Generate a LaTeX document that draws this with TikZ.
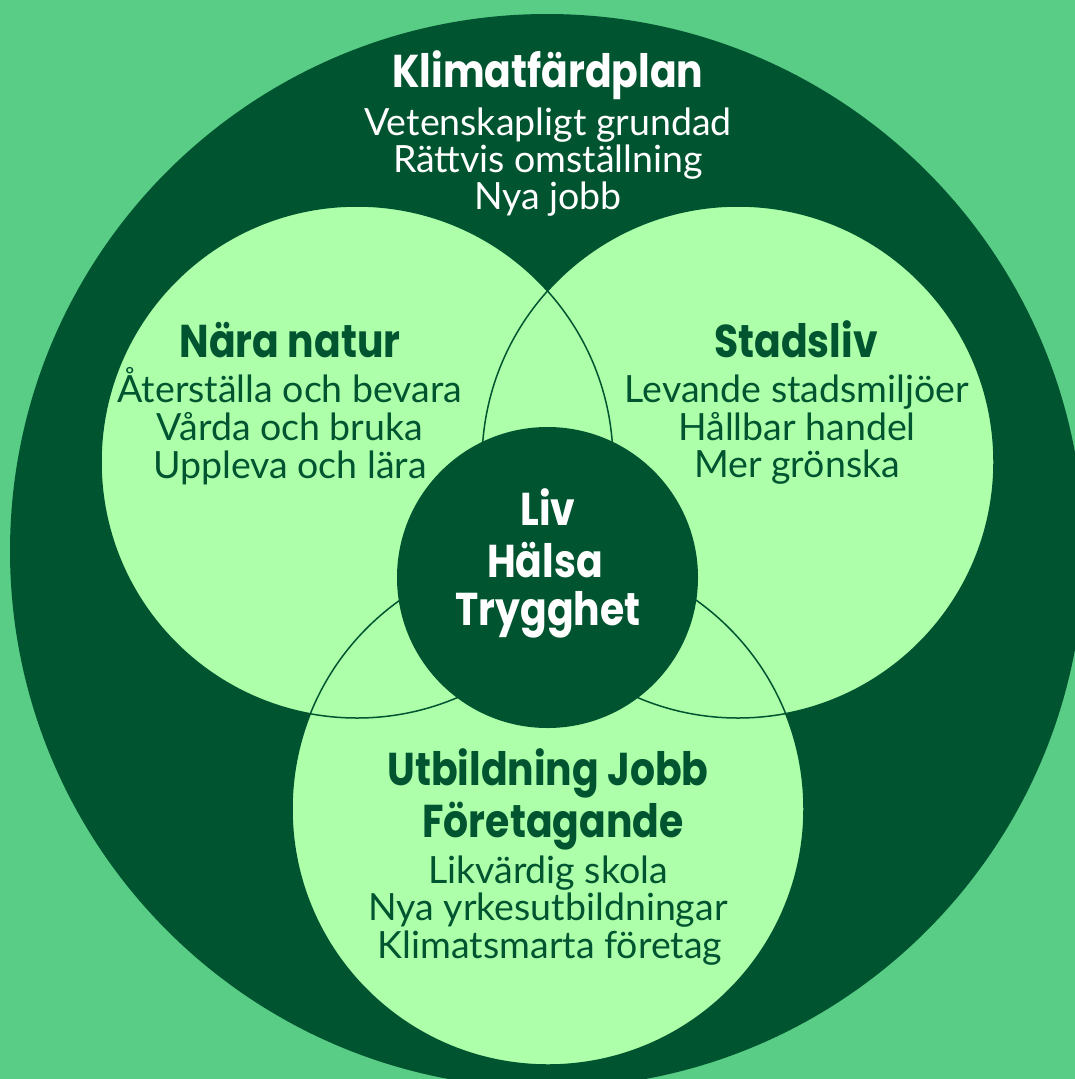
\documentclass[tikz,border=0pt]{standalone}
\usepackage{fontspec}
\setmainfont{Lato}
\newfontfamily\headfont[FakeStretch=0.855]{Poppins}
\definecolor{bggreen}{RGB}{89,205,133}
\definecolor{darkgreen}{RGB}{0,85,48}
\definecolor{lightgreen}{RGB}{173,255,170}
\tikzset{
  head/.style={anchor=base, font=\headfont\bfseries\fontsize{46}{50}\selectfont, inner sep=0pt},
  body/.style={anchor=base, font=\fontsize{37.5}{38}\selectfont, inner sep=0pt},
  ondark/.style={text=white},
  onlight/.style={text=darkgreen},
  lightfill/.style={fill=lightgreen},
  outline/.style={draw=darkgreen, line width=1.5pt},
}
\begin{document}
\begin{tikzpicture}[x=1pt,y=-1pt]
\useasboundingbox (0,0) rectangle (1075,1079);
\fill[bggreen] (0,0) rectangle (1075,1079);
% big outer circle
\fill[darkgreen] (547,551) circle[radius=537pt];
% three light circles
\coordinate (cl) at (357,462);
\coordinate (cr) at (738,462);
\coordinate (cb) at (548,809);
\coordinate (cc) at (547.5,577.5);
\fill[lightfill] (cl) circle[radius=256pt];
\fill[lightfill] (cr) circle[radius=256pt];
\fill[lightfill] (cb) circle[radius=256pt];
\draw[outline] (cl) circle[radius=256pt];
\draw[outline] (cr) circle[radius=256pt];
\draw[outline] (cb) circle[radius=256pt];
% centre circle
\fill[darkgreen] (cc) circle[radius=150.5pt];
% top texts
\node[head,ondark] (k0) at (548,87) {Klimatfärdplan};
\node[body,ondark] (k1) at (548,135) {Vetenskapligt grundad};
\node[body,ondark] (k2) at (548,172) {Rättvis omställning};
\node[body,ondark] (k3) at (548,209) {Nya jobb};
% left
\node[head,onlight] (n0) at (290,357) {Nära natur};
\node[body,onlight] (n1) at (290,402) {Återställa och bevara};
\node[body,onlight] (n2) at (290,440) {Vårda och bruka};
\node[body,onlight] (n3) at (290,478) {Uppleva och lära};
% right
\node[head,onlight] (s0) at (796,357) {Stadsliv};
\node[body,onlight] (s1) at (797,402) {Levande stadsmiljöer};
\node[body,onlight] (s2) at (797,440) {Hållbar handel};
\node[body,onlight] (s3) at (797,477) {Mer grönska};
% centre
\node[head,ondark] (c1) at (548,525) {Liv};
\node[head,ondark] (c2) at (545,577) {Hälsa};
\node[head,ondark] (c3) at (548,625) {Trygghet};
% bottom
\node[head,onlight] (u0) at (548,785) {Utbildning Jobb};
\node[head,onlight] (u1) at (553,837) {Företagande};
\node[body,onlight] (u2) at (548,883) {Likvärdig skola};
\node[body,onlight] (u3) at (548,920) {Nya yrkesutbildningar};
\node[body,onlight] (u4) at (550,958) {Klimatsmarta företag};
\end{tikzpicture}
\end{document}
